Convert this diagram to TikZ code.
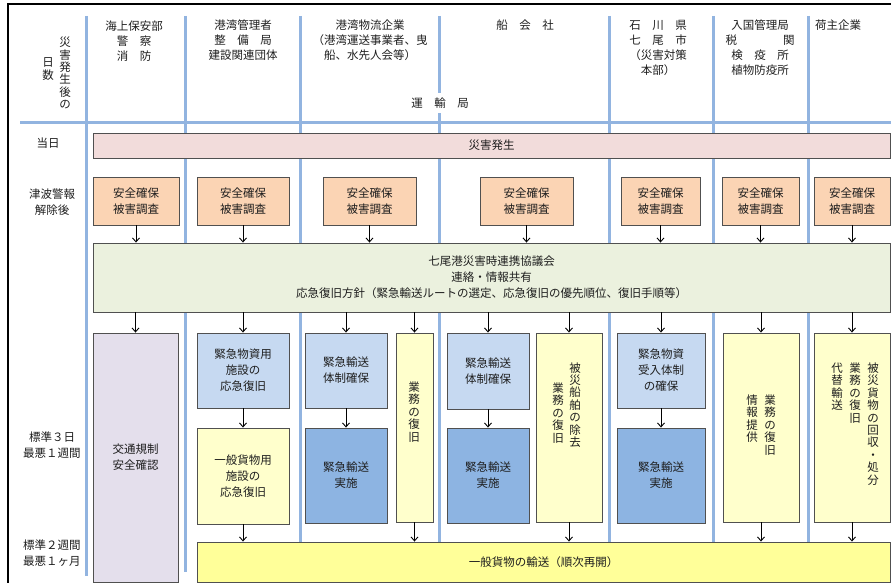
\documentclass[tikz,border=0pt]{standalone}
\usepackage{fontspec}
\setmainfont{Noto Sans CJK JP}
\usetikzlibrary{arrows.meta}
\definecolor{lineblue}{HTML}{92B4E0}
\definecolor{boxborder}{HTML}{505050}
\definecolor{txt}{HTML}{1E1E1E}
\definecolor{pinkc}{HTML}{F2DCDB}
\definecolor{orangec}{HTML}{FBD4B4}
\definecolor{greenc}{HTML}{EBF1DE}
\definecolor{lavc}{HTML}{E4DFEC}
\definecolor{lblue}{HTML}{C6D9F1}
\definecolor{dblue}{HTML}{8DB4E2}
\definecolor{lyel}{HTML}{FFFFCC}
\definecolor{byel}{HTML}{FFFF99}
\newcommand\mybox[7]{\node[box,fill=#6,minimum width={(#4-#2)*1pt},minimum height={(#5-#3)*1pt}] (#1) at ({(#2+#4)/2},{(#3+#5)/2}) {#7};}
\begin{document}
\begin{tikzpicture}[x=1pt,y=-1pt,
  box/.style={draw=boxborder,line width=0.9pt,inner sep=0pt,align=center,text=txt,font=\fontsize{11.5}{16}\selectfont},
  lbl/.style={inner sep=0pt,align=center,text=txt,font=\fontsize{11.5}{16}\selectfont},
  hdr/.style={inner sep=0pt,align=center,text=txt,font=\fontsize{11.5}{15}\selectfont},
  vtext/.style={inner sep=0pt,align=center,text=txt,font=\fontsize{11.5}{12.4}\selectfont},
  sep/.style={draw=lineblue,line width=3pt},
  arr/.style={draw=black,line width=0.9pt,-{Straight Barb[length=4pt,width=7pt]}}]
\useasboundingbox (0,0) rectangle (891,583);
% outer frame
\draw[line width=2pt,black] (8,583) -- (8,4) -- (891,4);
% grid lines
\draw[sep] (20,123) -- (891,123);
\draw[sep] (86,16) -- (86,576);
\draw[sep] (185,16) -- (185,572);
\foreach \x in {300,439,609,713,808} {\draw[sep] (\x,16) -- (\x,542);}
% header
\node[vtext] (hA) at (65,73) {災\\害\\発\\生\\後\\の};
\node[vtext] (hB) at (48,69) {日\\数};
\node[hdr] (c1) at (134,41) {海上保安部\\警　察\\消　防};
\node[hdr] (c2) at (243,40) {港湾管理者\\整　備　局\\建設関連団体};
\node[hdr] (c3) at (370,40) {港湾物流企業\\（港湾運送事業者、曳\\船、水先人会等）};
\node[hdr] (c4) at (525,25) {船　会　社};
\node[hdr] (c5) at (658,47.5) {石　川　県\\七　尾　市\\（災害対策\\本部）};
\node[hdr] (c6) at (760,48) {入国管理局\\税　　　　関\\検　疫　所\\植物防疫所};
\node[hdr] (c7) at (838,25) {荷主企業};
\node[hdr,fill=white,inner xsep=3pt,inner ysep=5pt] (unyu) at (440,103) {運　輸　局};
% row labels
\node[lbl] (r1) at (48,143) {当日};
\node[lbl] (r2) at (52,202) {津波警報\\解除後};
\node[lbl] (r3) at (52,445) {標準３日\\最悪１週間};
\node[lbl] (r4) at (52,553) {標準２週間\\最悪１ヶ月};
% top boxes
\mybox{hassei}{93}{133}{890}{158}{pinkc}{災害発生}
\mybox{s1}{93}{177}{179}{225}{orangec}{安全確保\\被害調査}
\mybox{s2}{197}{177}{289}{225}{orangec}{安全確保\\被害調査}
\mybox{s3}{323}{177}{416}{225}{orangec}{安全確保\\被害調査}
\mybox{s4}{480}{177}{573}{225}{orangec}{安全確保\\被害調査}
\mybox{s5}{621}{177}{700}{225}{orangec}{安全確保\\被害調査}
\mybox{s6}{722}{177}{799}{225}{orangec}{安全確保\\被害調査}
\mybox{s7}{814}{177}{890}{225}{orangec}{安全確保\\被害調査}
\mybox{g}{93}{243}{890}{312}{greenc}{七尾港災害時連携協議会\\連絡・情報共有\\応急復旧方針（緊急輸送ルートの選定、応急復旧の優先順位、復旧手順等）}
% middle boxes
\mybox{m1}{93}{333}{178}{582}{lavc}{交通規制\\安全確認}
\mybox{m2a}{197}{333}{289}{408}{lblue}{緊急物資用\\施設の\\応急復旧}
\mybox{m2b}{197}{428}{289}{524}{lyel}{一般貨物用\\施設の\\応急復旧}
\mybox{m3a}{305}{333}{387}{408}{lblue}{緊急輸送\\体制確保}
\mybox{m3b}{305}{428}{387}{523}{dblue}{緊急輸送\\実施}
\mybox{m3c}{396}{333}{433}{522}{lyel}{}
\mybox{m4a}{447}{333}{529}{409}{lblue}{緊急輸送\\体制確保}
\mybox{m4b}{447}{428}{529}{523}{dblue}{緊急輸送\\実施}
\mybox{m4c}{536}{333}{602}{522}{lyel}{}
\mybox{m5a}{617}{333}{705}{408}{lblue}{緊急物資\\受入体制\\の確保}
\mybox{m5b}{617}{428}{705}{523}{dblue}{緊急輸送\\実施}
\mybox{m6}{723}{333}{799}{522}{lyel}{}
\mybox{m7}{814}{333}{890}{522}{lyel}{}
\mybox{bot}{197}{542}{890}{582}{byel}{一般貨物の輸送（順次再開）}
% vertical texts
\node[vtext] (v3) at (414,412) {業\\務\\の\\復\\旧};
\node[vtext] (v4a) at (575,405) {被\\災\\船\\舶\\の\\除\\去};
\node[vtext] (v4b) at (558,413) {業\\務\\の\\復\\旧};
\node[vtext] (v6a) at (770,425) {業\\務\\の\\復\\旧};
\node[vtext] (v6b) at (752,418.6) {情\\報\\提\\供};
\node[vtext] (v7a) at (873,424) {被\\災\\貨\\物\\の\\回\\収\\・\\処\\分};
\node[vtext] (v7b) at (855,393) {業\\務\\の\\復\\旧};
\node[vtext] (v7c) at (837,386.6) {代\\替\\輸\\送};
% arrows safety -> council
\foreach \s in {s1,s2,s3,s4,s5,s6,s7} {\draw[arr] (\s.south) -- (\s.south |- g.north);}
% council -> middle boxes
\foreach \m in {m1,m2a,m3a,m3c,m4a,m4c,m5a,m6,m7} {\draw[arr] (\m.north |- g.south) -- (\m.north);}
% internal
\foreach \a/\b in {m2a/m2b,m3a/m3b,m4a/m4b,m5a/m5b} {\draw[arr] (\a.south) -- (\b.north);}
% to bottom
\foreach \m in {m2b,m3c,m4c,m6,m7} {\draw[arr] (\m.south) -- (\m.south |- bot.north);}
\end{tikzpicture}
\end{document}
